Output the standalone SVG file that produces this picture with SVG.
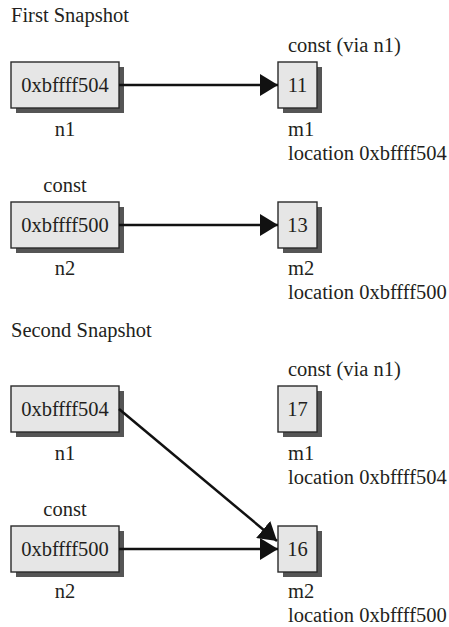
<svg xmlns="http://www.w3.org/2000/svg" width="449" height="627" viewBox="0 0 449 627" font-family="'Liberation Serif', 'DejaVu Serif', serif">
  <defs>
    <marker id="head" viewBox="0 0 18 22" refX="18" refY="11" markerWidth="18" markerHeight="22" markerUnits="userSpaceOnUse" orient="auto">
      <path d="M0,0 L18,11 L0,22 Z" fill="#111"/>
    </marker>
  </defs>
  <style>
    text { font-family: 'Liberation Serif', 'DejaVu Serif', serif; font-size: 20.5px; fill: #231f20; }
    .mid { text-anchor: middle; }
    .box { fill: #e6e6e6; stroke: #2a2a2a; stroke-width: 1.4; }
    .shadow { fill: #555555; }
    .wire { stroke: #111; stroke-width: 2.5; fill: none; marker-end: url(#head); }
  </style>
  <rect width="449" height="627" fill="#ffffff"/>

  <!-- first snapshot -->
  <text x="11" y="22">First Snapshot</text>

  <g id="s1-n1">
    <rect class="shadow" x="16" y="67" width="108" height="46"/>
    <rect class="box" x="11" y="62" width="108" height="46"/>
    <text class="mid" x="65" y="92">0xbffff504</text>
    <text class="mid" x="65" y="136">n1</text>
  </g>
  <g id="s1-m1">
    <text x="288" y="52">const (via n1)</text>
    <rect class="shadow" x="283" y="67" width="39" height="46"/>
    <rect class="box" x="278" y="62" width="39" height="46"/>
    <text class="mid" x="297.5" y="92">11</text>
    <text x="288" y="136">m1</text>
    <text x="288" y="160">location 0xbffff504</text>
  </g>
  <g id="s1-n2">
    <text class="mid" x="65" y="192">const</text>
    <rect class="shadow" x="16" y="207" width="108" height="46"/>
    <rect class="box" x="11" y="202" width="108" height="46"/>
    <text class="mid" x="65" y="232">0xbffff500</text>
    <text class="mid" x="65" y="275">n2</text>
  </g>
  <g id="s1-m2">
    <rect class="shadow" x="283" y="207" width="39" height="46"/>
    <rect class="box" x="278" y="202" width="39" height="46"/>
    <text class="mid" x="297.5" y="232">13</text>
    <text x="288" y="275">m2</text>
    <text x="288" y="299">location 0xbffff500</text>
  </g>

  <!-- second snapshot -->
  <text x="11" y="337">Second Snapshot</text>

  <g id="s2-n1">
    <rect class="shadow" x="16" y="391" width="108" height="46"/>
    <rect class="box" x="11" y="386" width="108" height="46"/>
    <text class="mid" x="65" y="416">0xbffff504</text>
    <text class="mid" x="65" y="460">n1</text>
  </g>
  <g id="s2-m1">
    <text x="288" y="376">const (via n1)</text>
    <rect class="shadow" x="283" y="391" width="39" height="46"/>
    <rect class="box" x="278" y="386" width="39" height="46"/>
    <text class="mid" x="297.5" y="416">17</text>
    <text x="288" y="460">m1</text>
    <text x="288" y="484">location 0xbffff504</text>
  </g>
  <g id="s2-n2">
    <text class="mid" x="65" y="516">const</text>
    <rect class="shadow" x="16" y="531" width="108" height="46"/>
    <rect class="box" x="11" y="526" width="108" height="46"/>
    <text class="mid" x="65" y="556">0xbffff500</text>
    <text class="mid" x="65" y="598">n2</text>
  </g>
  <g id="s2-m2">
    <rect class="shadow" x="283" y="531" width="39" height="46"/>
    <rect class="box" x="278" y="526" width="39" height="46"/>
    <text class="mid" x="297.5" y="556">16</text>
    <text x="288" y="598">m2</text>
    <text x="288" y="622">location 0xbffff500</text>
  </g>

  <g id="connectors">
    <line class="wire" x1="119" y1="85" x2="278" y2="85"/>
    <line class="wire" x1="119" y1="225" x2="278" y2="225"/>
    <line class="wire" x1="119" y1="409" x2="277" y2="541"/>
    <line class="wire" x1="119" y1="549" x2="278" y2="549"/>
  </g>
</svg>
